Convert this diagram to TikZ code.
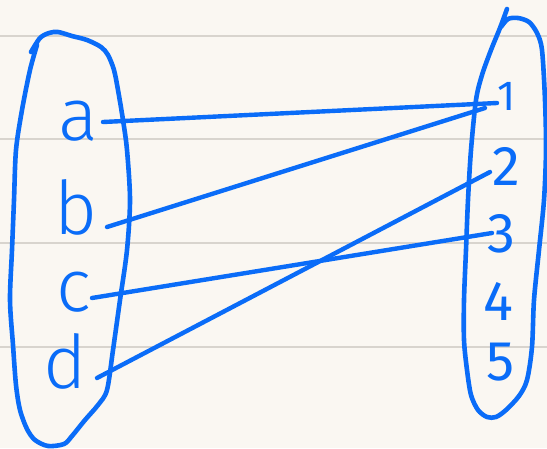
\documentclass[tikz,border=0pt]{standalone}
\usepackage{fontspec}
\newfontfamily\hand{Fira Sans Light}
\newfontfamily\handd{Fira Sans}
\definecolor{ink}{RGB}{10,108,248}
\definecolor{paper}{RGB}{250,247,242}
\definecolor{rule}{RGB}{216,212,206}
\tikzset{
  blob/.style={draw=ink,line width=4.6pt,line cap=round,line join=round},
  link/.style={draw=ink,line width=4.4pt,line cap=round},
  letter/.style={text=ink,inner sep=0pt,font=\hand\fontsize{74}{74}\selectfont},
  digit/.style={text=ink,inner sep=0pt,font=\handd\fontsize{56}{56}\selectfont},
  paperline/.style={draw=rule,line width=1.2pt}
}
\begin{document}
\begin{tikzpicture}[x=1pt,y=-1pt]
\fill[paper] (0,0) rectangle (547,448);
\useasboundingbox (0,0) rectangle (547,448);
\foreach \yy in {36,139,243,347} \draw[paperline] (0,\yy) -- (547,\yy);
% left set
\draw[blob] plot[smooth] coordinates {(31,52) (40,38) (49,33) (58,32) (72,36) (87,40) (101,47) (108,55) (114,70) (118,90) (123,120) (127,150) (130,200) (127,250) (120,300) (113,350) (107,390) (98,405) (85,420) (72,436) (64,444) (48,446) (35,440) (27,429) (20,410) (16,385) (13,345) (10,300) (12,250) (14,200) (16,150) (22,110) (30,70) (37,45)};
% right set
\draw[blob] plot[smooth] coordinates {(507,9) (500,28) (491,50) (482,75) (476,100) (471,150) (468,200) (466,250) (464,300) (464,340) (467,370) (471,395) (478,410) (487,417) (496,417) (506,410) (519,396) (527,380) (532,347) (534,300) (539,250) (544,200) (546,150) (545,100) (542,50) (537,33) (529,22) (518,18) (508,19) (501,27)};
% elements
\node[letter] (a) at (78,121) {a};
\node[letter] (b) at (76,207) {b};
\node[letter] (c) at (74,292) {c};
\node[letter] (d) at (65,361) {d};
\node[digit,font=\handd\fontsize{42}{42}\selectfont] (n1) at (507,96) {1};
\node[digit] (n2) at (506,166) {2};
\node[digit] (n3) at (501,234) {3};
\node[digit] (n4) at (498,301) {4};
\node[digit] (n5) at (501,362) {5};
% mapping
\draw[link] ([shift={(25,1)}]a.center) -- ([shift={(-10,7)}]n1.center);
\draw[link] ([shift={(31,20)}]b.center) -- ([shift={(-22,12)}]n1.center);
\draw[link] ([shift={(18,6)}]c.center) -- ([shift={(-9,-1)}]n3.center);
\draw[link] ([shift={(32,17)}]d.center) -- ([shift={(-16,6)}]n2.center);
\end{tikzpicture}
\end{document}
